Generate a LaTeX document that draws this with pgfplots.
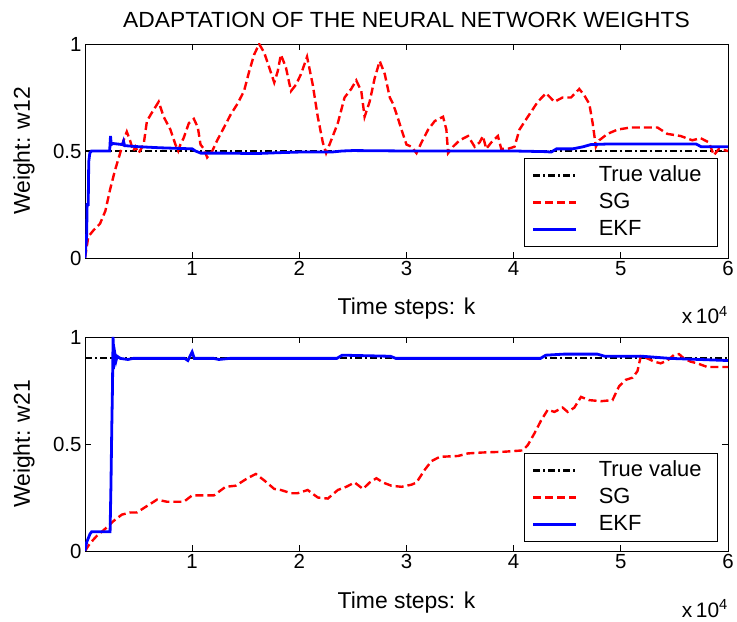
\documentclass[border=0pt]{standalone}
\usepackage{fontspec}
\setmainfont{Liberation Sans}
\usepackage{graphicx}
\usepackage{pgfplots}
\pgfplotsset{compat=1.18}

\definecolor{sgred}{RGB}{255,0,0}
\definecolor{ekfblue}{RGB}{0,0,255}

% ---- estimated weights ----
\pgfplotstableread{
k w
0 0
310 0.10
800 0.13
1400 0.16
1900 0.22
2340 0.32
2800 0.41
3280 0.49
3600 0.55
3900 0.59
4200 0.55
4500 0.50
4700 0.52
5000 0.49
5470 0.53
5780 0.64
6250 0.68
6875 0.73
7340 0.66
7970 0.60
8440 0.53
8700 0.50
8900 0.53
9200 0.56
9690 0.63
10160 0.65
10530 0.61
10780 0.53
11090 0.51
11400 0.47
11875 0.50
12340 0.55
12970 0.61
13590 0.67
14220 0.72
14840 0.78
15310 0.87
15780 0.95
16250 1.00
16720 0.96
17190 0.89
17660 0.82
17970 0.87
18280 0.95
18750 0.89
19220 0.78
19690 0.81
20160 0.86
20720 0.94
21250 0.81
21720 0.66
22190 0.54
22500 0.49
22970 0.55
23590 0.63
24220 0.75
24840 0.79
25310 0.83
25780 0.78
26090 0.66
26560 0.73
27030 0.84
27500 0.92
27970 0.86
28440 0.75
28750 0.72
29220 0.65
29530 0.60
30000 0.53
30470 0.52
30930 0.49
31400 0.54
32020 0.60
32640 0.64
33410 0.66
33720 0.60
33880 0.49
34340 0.52
34960 0.55
35740 0.57
36360 0.52
36820 0.54
37130 0.57
37440 0.51
37910 0.54
38530 0.57
38840 0.51
39460 0.51
40080 0.52
40540 0.60
41320 0.66
42250 0.73
43020 0.77
43800 0.73
44570 0.75
45350 0.75
46120 0.79
46590 0.76
47060 0.72
47370 0.63
47670 0.52
47980 0.55
48760 0.58
49690 0.60
50930 0.61
52480 0.61
53410 0.61
54340 0.58
55580 0.57
56670 0.55
57440 0.56
58220 0.54
58680 0.48
59150 0.51
60000 0.50
}\sgtop

\pgfplotstableread{
k w
0 0
150 0.10
200 0.25
300 0.25
350 0.45
450 0.49
600 0.50
2300 0.50
2380 0.57
2450 0.53
2600 0.535
3500 0.53
3600 0.545
3700 0.525
5000 0.52
7000 0.515
10000 0.51
10300 0.50
10800 0.49
13000 0.49
16000 0.488
18000 0.492
20000 0.495
23000 0.495
24000 0.50
25000 0.502
30000 0.50
40000 0.50
43000 0.497
43500 0.495
44000 0.51
45500 0.51
46500 0.52
47200 0.53
49000 0.533
57000 0.533
57500 0.52
60000 0.52
}\ekftop

\pgfplotstableread{
k w
0 0
470 0.036
1090 0.07
2030 0.11
2660 0.14
3440 0.17
4220 0.18
4840 0.18
5780 0.21
6720 0.24
7660 0.23
9220 0.23
10000 0.26
10780 0.26
12030 0.26
13120 0.30
14060 0.305
15160 0.34
15940 0.36
16720 0.33
17660 0.29
18280 0.285
19220 0.27
19840 0.27
20780 0.285
21720 0.25
22660 0.245
23590 0.285
24380 0.30
25160 0.32
25940 0.29
26560 0.32
27190 0.34
27810 0.32
28590 0.305
29530 0.30
30470 0.31
30930 0.32
31710 0.38
32330 0.42
33100 0.44
34810 0.444
35740 0.456
36980 0.46
39150 0.464
40850 0.47
41320 0.495
41940 0.55
42560 0.61
43180 0.66
43800 0.65
44570 0.67
45040 0.65
45660 0.67
46280 0.72
47050 0.705
48140 0.70
49220 0.705
49840 0.77
50470 0.80
51090 0.81
51550 0.84
51860 0.91
52480 0.90
53100 0.885
53720 0.877
54340 0.89
54960 0.916
55430 0.92
55890 0.90
56510 0.885
57130 0.877
58060 0.86
60000 0.86
}\sgbot

\pgfplotstableread{
k w
0 0
150 0.04
470 0.08
620 0.09
2340 0.09
2420 0.30
2500 0.58
2560 0.75
2620 1.00
2660 0.85
2700 0.95
2750 0.87
2800 0.92
2900 0.89
3000 0.91
3300 0.90
4000 0.895
4500 0.90
9300 0.90
9600 0.89
10000 0.93
10200 0.90
12000 0.90
12500 0.895
13500 0.90
23500 0.90
24000 0.915
28500 0.91
29000 0.90
42500 0.90
43000 0.915
44700 0.92
47800 0.92
48500 0.91
52000 0.91
54600 0.90
60000 0.89
}\ekfbot

\pgfplotsset{
  weightaxis/.style={
    scale only axis, width=643bp, height=214bp,
    xmin=0, xmax=60000, ymin=0, ymax=1,
    xtick={10000,20000,30000,40000,50000,60000},
    xticklabels={1,2,3,4,5,6},
    ytick={0,0.5,1}, yticklabels={0,0.5,1},
    scaled x ticks=false,
    tick align=inside, tickpos=both, major tick length=6bp,
    axis line style={line width=0.9bp},
    every tick/.style={black, line width=0.8bp},
    tick label style={font=\fontsize{20.5}{20.5}\selectfont},
    /pgf/number format/assume math mode=true,
    xlabel={Time steps: k},
    xlabel style={font=\fontsize{23}{23}\selectfont,
      at={(axis description cs:0.5,0)}, anchor=base, yshift=-57bp},
    ylabel style={font=\fontsize{23}{23}\selectfont,
      at={(axis description cs:-0.0949,0.5)}, anchor=center},
    legend cell align=left,
    legend style={at={(axis description cs:1,0)}, anchor=south east,
      draw=black, line width=0.8bp,
      font=\fontsize{22}{22}\selectfont,
      inner xsep=8bp, inner ysep=3.5bp, row sep=0bp, column sep=13bp,
      nodes={inner xsep=8bp, inner ysep=3bp, text height=16bp, text depth=5bp}},
    legend image code/.code={\draw[#1] (0bp,0bp) -- (43bp,0bp);},
  },
  truestyle/.style={black, line width=2.2bp, dash pattern=on 7bp off 3bp on 2bp off 3bp},
  sgstyle/.style={sgred, line width=2.4bp, dash pattern=on 8bp off 4bp},
  ekfstyle/.style={ekfblue, line width=2.8bp},
}

\begin{document}
\begin{tikzpicture}
\path[use as bounding box] (0,0) rectangle (737bp,622bp);

% upper panel: weight w12
\begin{axis}[weightaxis, name=top, at={(85bp,364bp)}, anchor=south west,
  ylabel={Weight: w12},
  legend style={xshift=-10bp, yshift=11bp}]
\addplot[truestyle] coordinates {(0,0.5) (60000,0.5)};
\addlegendentry{True value}
\addplot[sgstyle] table[x=k, y=w] {\sgtop};
\addlegendentry{SG}
\addplot[ekfstyle] table[x=k, y=w] {\ekftop};
\addlegendentry{EKF}
\end{axis}

% lower panel: weight w21
\begin{axis}[weightaxis, name=bot, at={(85bp,71bp)}, anchor=south west,
  ylabel={Weight: w21},
  legend style={xshift=-10bp, yshift=9bp}]
\addplot[truestyle] coordinates {(0,0.9) (60000,0.9)};
\addlegendentry{True value}
\addplot[sgstyle] table[x=k, y=w] {\sgbot};
\addlegendentry{SG}
\addplot[ekfstyle] table[x=k, y=w] {\ekfbot};
\addlegendentry{EKF}
\end{axis}

\node[anchor=base east, font=\fontsize{21}{21}\selectfont, inner sep=0pt]
  at ([yshift=-66bp]top.south east) {x\,10\textsuperscript{4}};
\node[anchor=base east, font=\fontsize{21}{21}\selectfont, inner sep=0pt]
  at ([yshift=-66bp]bot.south east) {x\,10\textsuperscript{4}};

\node[anchor=base, font=\fontsize{22}{22}\selectfont, inner sep=0pt]
  at (406.5bp,594bp) {\scalebox{1.04}[1]{ADAPTATION OF THE NEURAL NETWORK WEIGHTS}};
\end{tikzpicture}
\end{document}
